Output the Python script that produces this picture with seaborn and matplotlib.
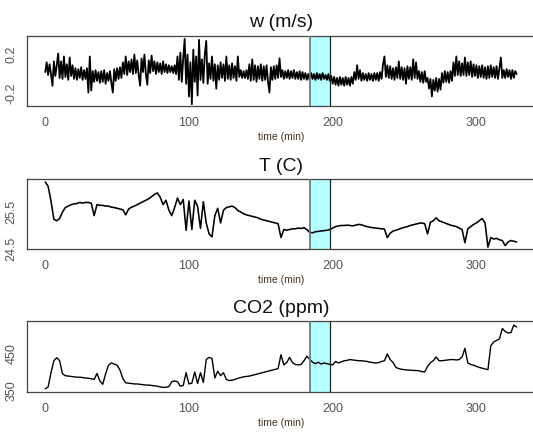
import matplotlib
matplotlib.use("Agg")
import matplotlib.pyplot as plt
import seaborn as sns
import pandas as pd

sns.set_style("white")
plt.rcParams['font.family'] = ['Liberation Sans', 'DejaVu Sans']

# ---------------- data ----------------
# vertical velocity w (m/s), one value per minute, t = 0..328
w_values = [
    0.02, 0.12, -0.01, 0.10, 0.00, -0.12, 0.13, -0.02, 0.09, 0.21,
    -0.04, 0.13, -0.05, 0.18, -0.03, 0.10, -0.06, 0.17, -0.02, 0.09,
    -0.05, 0.06, -0.06, 0.05, -0.04, 0.07, -0.06, 0.04, -0.05, 0.06,
    -0.19, 0.18, -0.17, 0.03, -0.08, 0.04, -0.07, 0.02, -0.09, 0.03,
    -0.08, 0.04, -0.10, 0.01, -0.07, 0.03, -0.09, -0.19, 0.05, -0.07,
    0.06, -0.05, 0.07, -0.04, 0.12, 0.00, 0.18, -0.01, 0.13, 0.02,
    0.15, 0.00, 0.20, 0.01, 0.14, -0.01, -0.12, 0.16, 0.02, 0.20,
    0.00, -0.11, 0.14, 0.01, 0.19, 0.03, 0.13, 0.00, 0.12, 0.02,
    0.11, 0.00, 0.13, 0.02, 0.10, 0.01, 0.09, 0.02, 0.08, 0.01,
    0.09, 0.00, 0.18, -0.06, 0.22, -0.08, 0.16, 0.36, -0.10, 0.20,
    -0.23, 0.12, -0.31, 0.25, -0.08, 0.18, -0.22, 0.35, -0.06, 0.15,
    -0.09, 0.20, 0.34, -0.10, 0.11, -0.05, 0.18, -0.07, 0.10, -0.15,
    0.09, -0.06, 0.12, -0.04, 0.10, -0.07, 0.18, -0.05, 0.09, -0.06,
    0.11, -0.04, 0.08, -0.07, 0.18, -0.03, 0.04, -0.04, 0.03, -0.04,
    0.04, -0.05, 0.10, -0.07, 0.15, -0.06, 0.09, -0.08, 0.08, -0.05,
    0.10, -0.07, 0.08, -0.06, 0.09, -0.08, -0.19, 0.07, -0.06, 0.08,
    -0.05, 0.09, -0.04, 0.16, -0.03, 0.04, -0.05, 0.03, -0.04, 0.04,
    -0.05, 0.03, -0.04, 0.04, -0.05, 0.02, -0.05, 0.03, -0.06, 0.02,
    -0.05, 0.01, -0.06, 0.00, -0.06, 0.01, -0.05, 0.00, -0.06, 0.01,
    -0.05, 0.00, -0.06, 0.01, -0.05, -0.01, -0.06, 0.00, -0.07, -0.02,
    -0.10, -0.03, -0.11, -0.04, -0.12, -0.03, -0.11, -0.04, -0.12, -0.03,
    -0.11, -0.04, -0.12, -0.03, -0.10, 0.02, -0.06, 0.09, -0.05, 0.04,
    -0.07, 0.01, -0.06, 0.00, -0.07, 0.01, -0.06, 0.00, -0.07, 0.01,
    -0.06, 0.01, -0.07, 0.02, -0.05, 0.10, 0.18, -0.03, 0.09, -0.04,
    0.08, -0.05, 0.06, -0.06, 0.07, -0.04, 0.13, -0.05, 0.07, -0.06,
    0.06, -0.10, 0.08, -0.05, 0.07, -0.06, 0.15, -0.04, 0.12, -0.05,
    0.03, -0.08, 0.02, -0.09, 0.03, -0.08, -0.04, -0.15, -0.05, -0.23,
    -0.06, -0.17, -0.04, -0.18, -0.05, -0.16, 0.01, -0.09, 0.03, -0.08,
    0.02, -0.09, 0.03, -0.07, 0.12, -0.02, 0.18, -0.01, 0.13, -0.02,
    0.11, -0.01, 0.17, -0.02, 0.12, -0.01, 0.13, -0.03, 0.10, -0.02,
    0.09, -0.04, 0.08, -0.03, 0.09, -0.04, 0.07, -0.05, 0.08, -0.04,
    0.09, -0.03, 0.07, -0.04, 0.08, -0.05, 0.06, 0.17, -0.04, 0.04,
    -0.04, 0.05, -0.03, 0.04, -0.05, 0.04, -0.04, 0.03, 0.00,
]
w_time = list(range(0, len(w_values)))

# temperature T (C), every 2 minutes, t = 0..328
T_values = [
    26.32, 26.20, 25.80, 25.30, 25.26, 25.32, 25.50, 25.62, 25.66, 25.70,
    25.72, 25.73, 25.76, 25.74, 25.76, 25.76, 25.74, 25.40, 25.70, 25.68,
    25.68, 25.66, 25.66, 25.63, 25.62, 25.60, 25.58, 25.56, 25.42, 25.58,
    25.63, 25.66, 25.70, 25.74, 25.78, 25.82, 25.86, 25.92, 25.98, 26.02,
    25.90, 25.70, 25.82, 25.55, 25.40, 25.62, 25.88, 25.70, 25.84, 25.00,
    25.80, 25.02, 25.82, 25.65, 25.05, 25.78, 25.20, 24.90, 24.82, 25.40,
    25.60, 25.20, 25.55, 25.62, 25.64, 25.66, 25.62, 25.54, 25.50, 25.45,
    25.42, 25.40, 25.38, 25.36, 25.34, 25.30, 25.28, 25.26, 25.24, 25.22,
    25.20, 25.18, 24.80, 25.02, 25.00, 25.02, 25.04, 25.04, 25.06, 25.05,
    25.07, 25.02, 24.94, 24.93, 24.96, 24.97, 24.98, 24.99, 25.00, 25.02,
    25.06, 25.10, 25.12, 25.13, 25.13, 25.14, 25.13, 25.12, 25.14, 25.16,
    25.15, 25.12, 25.10, 25.08, 25.07, 25.06, 25.05, 25.04, 25.03, 24.80,
    24.92, 24.98, 25.00, 25.03, 25.06, 25.08, 25.10, 25.13, 25.15, 25.17,
    25.19, 25.20, 25.18, 24.90, 25.22, 25.26, 25.34, 25.26, 25.23, 25.20,
    25.17, 25.14, 25.12, 25.10, 25.06, 25.02, 24.66, 25.04, 25.10, 25.16,
    25.20, 25.26, 25.32, 25.20, 24.54, 24.80, 24.76, 24.78, 24.74, 24.72,
    24.58, 24.68, 24.72, 24.70, 24.68,
]

# CO2 (ppm), every 2 minutes, t = 0..328
co2_values = [
    355, 360, 398, 430, 438, 430, 395, 390, 389, 388,
    387, 386, 386, 385, 384, 383, 382, 380, 396, 376,
    367, 395, 418, 424, 421, 418, 405, 382, 371, 370,
    369, 368, 368, 367, 366, 365, 365, 364, 363, 362,
    360, 359, 359, 361, 374, 376, 374, 362, 364, 398,
    368, 370, 400, 369, 398, 372, 433, 439, 436, 384,
    402, 390, 398, 380, 377, 378, 380, 383, 385, 387,
    388, 389, 391, 393, 395, 397, 399, 401, 403, 405,
    407, 409, 446, 419, 425, 439, 425, 420, 419, 420,
    430, 442, 434, 426, 422, 426, 421, 424, 422, 420,
    419, 428, 424, 427, 430, 431, 433, 432, 431, 430,
    430, 429, 428, 426, 425, 424, 425, 428, 430, 448,
    433, 425, 412, 409, 407, 406, 405, 405, 404, 404,
    403, 401, 400, 415, 425, 430, 440, 430, 430, 431,
    432, 433, 433, 432, 433, 440, 463, 424, 420, 418,
    415, 412, 410, 408, 406, 470, 480, 484, 488, 516,
    508, 504, 505, 525, 520,
]
time_2min = list(range(0, 2 * len(T_values), 2))

titles = ["w (m/s)", "T (C)", "CO2 (ppm)"]
x_label = "time (min)"
x_ticks = [0, 100, 200, 300]
x_tick_labels = ["0", "100", "200", "300"]
y_ticks = [[-0.2, 0.0, 0.2], [24.5, 25.0, 25.5, 26.0], [350, 400, 450, 500]]
y_tick_labels = [["-0.2", "", "0.2"], ["24.5", "", "25.5", ""], ["350", "", "450", ""]]
y_limits = [(-0.331, 0.393), (24.48, 26.40), (346.5, 536.0)]
band_start, band_end = 184.5, 198.0

frames = [
    pd.DataFrame({"time": w_time, "value": w_values}),
    pd.DataFrame({"time": time_2min, "value": T_values}),
    pd.DataFrame({"time": time_2min, "value": co2_values}),
]
line_widths = [1.3, 1.15, 1.0]

# ---------------- figure ----------------
W, H = 533, 432
fig = plt.figure(figsize=(W / 100, H / 100), dpi=100)
left_px, right_px = 27, 535.5
panels_px = [(35.7, 106.3), (179.0, 249.3), (321.0, 392.0)]

for i, (top, bot) in enumerate(panels_px):
    ax = fig.add_axes([left_px / W, 1 - bot / H, (right_px - left_px) / W, (bot - top) / H])
    ax.axvspan(band_start, band_end, color="#b4ffff", zorder=0, lw=0)
    sns.lineplot(data=frames[i], x="time", y="value", ax=ax, color="black",
                 linewidth=line_widths[i], estimator=None, zorder=2)
    ax.axvline(band_start, color="#777777", lw=1.3, zorder=3)
    ax.axvline(band_end, color="#222222", lw=0.9, zorder=3)
    ax.set_xlim(-12.7, 341.1)
    ax.set_ylim(*y_limits[i])
    ax.set_xticks(x_ticks)
    ax.set_xticklabels(x_tick_labels)
    ax.set_yticks(y_ticks[i])
    ax.set_yticklabels(y_tick_labels[i])
    ax.tick_params(axis="both", direction="out", length=3, width=0.7,
                   color="#555555", labelcolor="#555555", labelsize=9)
    ax.tick_params(axis="x", pad=5)
    ax.tick_params(axis="y", labelrotation=90, pad=4)
    for lab in ax.get_yticklabels():
        lab.set_va("center")
    ax.set_xlabel(x_label, fontsize=7.5, color="#443322", labelpad=2)
    ax.set_ylabel("")
    ax.set_title(titles[i], fontsize=14, color="#111111", pad=6)
    for s in ax.spines.values():
        s.set_color("#444444")
        s.set_linewidth(0.9)
    ax.grid(False)

fig.savefig("out.png", dpi=100)
